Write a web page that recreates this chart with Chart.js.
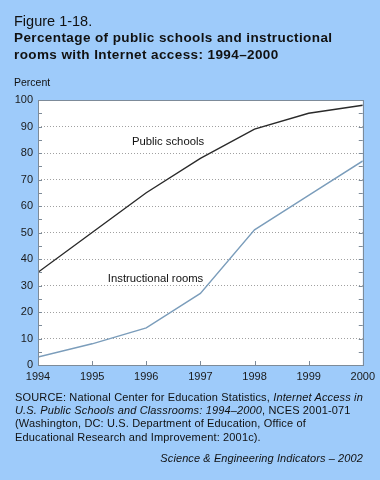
<!DOCTYPE html>
<html>
<head>
<meta charset="utf-8">
<script src="https://cdn.jsdelivr.net/npm/chart.js@4/dist/chart.umd.min.js"></script>
<style>
  html, body { margin:0; padding:0; }
  body { width:380px; height:480px; background:#9ecbfa; position:relative; overflow:hidden;
         font-family:"Liberation Sans", Arial, Helvetica, sans-serif; color:#111; }
  #wrap { position:absolute; left:0; top:0; width:380px; height:480px; }
  .t { position:absolute; white-space:nowrap; line-height:1; }
  #fig { left:14px; top:14px; font-size:14.5px; }
  #title { left:14px; top:30px; font-size:13.5px; font-weight:bold; line-height:16.5px; letter-spacing:0.4px; }
  #unit { left:14px; top:77px; font-size:10.5px; }
  #src { left:15px; top:391px; font-size:11px; line-height:13.2px; letter-spacing:0.15px; }
  #credit { right:17px; top:453px; font-size:11px; font-style:italic; letter-spacing:0.1px; }
</style>
</head>
<body>
<div id="wrap"><canvas id="c" width="380" height="480"></canvas></div>
<div class="t" id="fig">Figure 1-18.</div>
<div class="t" id="title">Percentage of public schools and instructional<br>rooms with Internet access: 1994–2000</div>
<div class="t" id="unit">Percent</div>
<div class="t" id="src">SOURCE: National Center for Education Statistics, <i>Internet Access in</i><br><i>U.S. Public Schools and Classrooms: 1994–2000</i>, NCES 2001-071<br>(Washington, DC: U.S. Department of Education, Office of<br>Educational Research and Improvement: 2001c).</div>
<div class="t" id="credit">Science &amp; Engineering Indicators – 2002</div>
<script>
const years = [1994, 1995, 1996, 1997, 1998, 1999, 2000];
const publicSchools = [35, 50, 65, 78, 89, 95, 98];
const instructionalRooms = [3, 8, 14, 27, 51, 64, 77];
const yTicks = [0, 10, 20, 30, 40, 50, 60, 70, 80, 90, 100];
const seriesLabels = ["Public schools", "Instructional rooms"];
const labelAnchors = [[1995.735, 83.0], [1995.29, 31.5]];

const FONT = '"Liberation Sans", Arial, Helvetica, sans-serif';

const framePlugin = {
  id: 'frame',
  afterDraw(chart) {
    const {ctx, chartArea: a, scales: {x, y}} = chart;
    ctx.save();
    ctx.strokeStyle = '#7d8b99';
    ctx.lineWidth = 1;
    for (let v = 0; v <= 100; v += 5) {
      const py = Math.round(y.getPixelForValue(v)) + 0.5;
      ctx.beginPath();
      ctx.moveTo(a.left, py); ctx.lineTo(a.left + 4, py);
      ctx.moveTo(a.right, py); ctx.lineTo(a.right - 4, py);
      ctx.stroke();
    }
    years.forEach(yr => {
      const px = Math.round(x.getPixelForValue(yr)) + 0.5;
      ctx.beginPath();
      ctx.moveTo(px, a.bottom); ctx.lineTo(px, a.bottom - 4);
      ctx.stroke();
    });
    ctx.strokeRect(Math.round(a.left) + 0.5, Math.round(a.top) + 0.5,
                   Math.round(a.right - a.left), Math.round(a.bottom - a.top));
    ctx.fillStyle = '#111';
    ctx.font = '11.3px ' + FONT;
    ctx.textBaseline = 'alphabetic';
    seriesLabels.forEach((s, i) => {
      ctx.fillText(s, x.getPixelForValue(labelAnchors[i][0]), y.getPixelForValue(labelAnchors[i][1]));
    });
    ctx.restore();
  }
};

const bgPlugin = {
  id: 'plotbg',
  beforeDraw(chart) {
    const {ctx, chartArea: a} = chart;
    ctx.save();
    ctx.fillStyle = '#ffffff';
    ctx.fillRect(a.left, a.top, a.right - a.left, a.bottom - a.top);
    ctx.restore();
  }
};

new Chart(document.getElementById('c'), {
  type: 'line',
  data: {
    datasets: [
      { label: seriesLabels[0], data: years.map((yr, i) => ({x: yr, y: publicSchools[i]})),
        borderColor: '#2a2a2a', borderWidth: 1.4, pointRadius: 0, tension: 0, fill: false },
      { label: seriesLabels[1], data: years.map((yr, i) => ({x: yr, y: instructionalRooms[i]})),
        borderColor: '#7b9dbb', borderWidth: 1.4, pointRadius: 0, tension: 0, fill: false }
    ]
  },
  options: {
    responsive: false,
    animation: false,
    devicePixelRatio: 1,
    layout: { padding: { left: 0, right: 17, top: 100, bottom: 95 } },
    plugins: { legend: { display: false }, tooltip: { enabled: false }, title: { display: false } },
    scales: {
      x: {
        type: 'linear', min: 1994, max: 2000,
        afterFit(s) { s.height = 20; },
        afterBuildTicks(s) { s.ticks = years.map(v => ({value: v})); },
        ticks: { color: '#1a1a1a', font: { family: FONT, size: 11 }, padding: 5, maxRotation: 0,
                 callback: v => String(v) },
        grid: { display: false, drawTicks: false },
        border: { display: false }
      },
      y: {
        min: 0, max: 100,
        afterFit(s) { s.width = 38; },
        afterBuildTicks(s) { s.ticks = yTicks.map(v => ({value: v})); },
        ticks: { color: '#1a1a1a', font: { family: FONT, size: 11 }, padding: 5 },
        grid: { drawTicks: false, color: ctx => (ctx.tick && ctx.tick.value > 0 && ctx.tick.value < 100) ? '#a0a0a0' : 'rgba(0,0,0,0)', lineWidth: 1 },
        border: { display: false, dash: [1, 2] }
      }
    }
  },
  plugins: [bgPlugin, framePlugin]
});
</script>
</body>
</html>
